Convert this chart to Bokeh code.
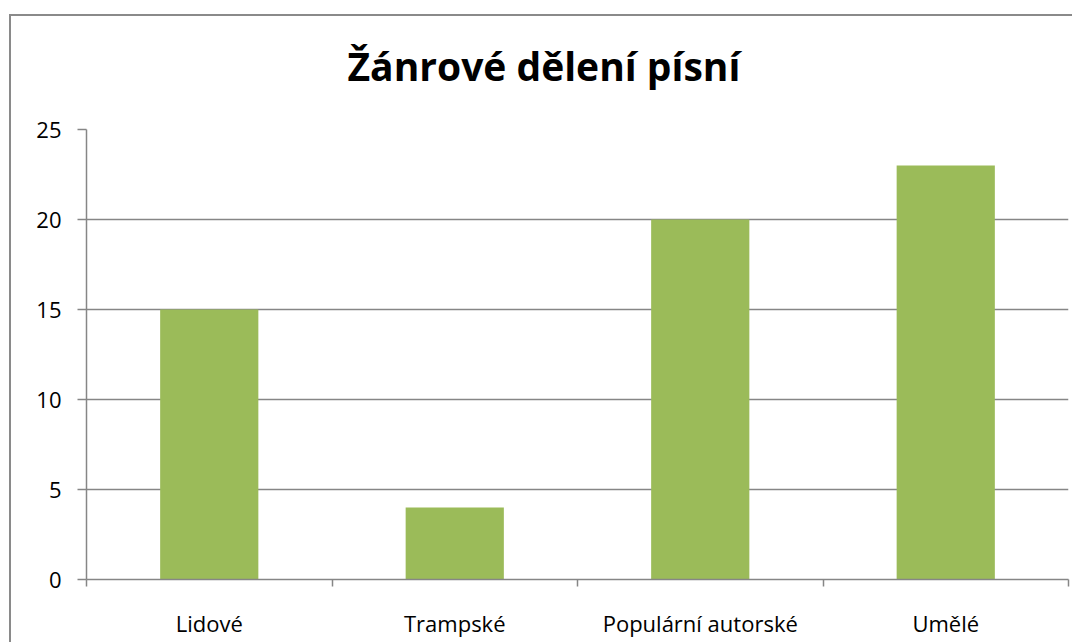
from bokeh.plotting import figure
from bokeh.models import FixedTicker, Range1d, Title
from bokeh.embed import file_html
from bokeh.resources import INLINE

categories = ["Lidové", "Trampské", "Populární autorské", "Umělé"]
values = [15, 4, 20, 23]
y_ticks = [0, 5, 10, 15, 20, 25]
title_text = "Žánrové dělení písní"

FONT = "Open Sans"
GRID = "#868686"

xs = [i + 0.5 for i in range(len(categories))]

p = figure(width=1063, height=628, output_backend="svg", toolbar_location=None,
           x_range=Range1d(0, len(categories)), y_range=Range1d(0, 25),
           min_border_left=75, min_border_right=6, min_border_top=113, min_border_bottom=65)
p.styles = {"border-left": "2px solid #8a8a8a", "border-top": "2px solid #8a8a8a",
            "margin-top": "14px", "margin-left": "9px"}

p.vbar(x=xs, top=values, width=0.4, color="#9BBB59", line_color=None)

# small spacer between the frame and the title
p.add_layout(Title(text=" ", text_font_size="8px", standoff=9), "above")

p.title.text = title_text
p.title.text_font = FONT
p.title.text_font_size = "39px"
p.title.text_font_style = "bold"
p.title.align = "left"
p.title.text_color = "#000000"
p.title.standoff = 36
p.title.offset = 261

p.outline_line_color = None
p.background_fill_color = "white"
p.border_fill_color = "white"

p.xgrid.grid_line_color = None
p.ygrid.ticker = FixedTicker(ticks=y_ticks)
p.ygrid.grid_line_color = GRID
p.ygrid.grid_line_width = 1.5

p.yaxis.ticker = FixedTicker(ticks=y_ticks)
p.yaxis.axis_line_color = GRID
p.yaxis.axis_line_width = 1.5
p.yaxis.major_tick_line_color = GRID
p.yaxis.major_tick_line_width = 1.5
p.yaxis.major_tick_out = 9
p.yaxis.major_tick_in = 0
p.yaxis.minor_tick_line_color = None
p.yaxis.major_label_text_font = FONT
p.yaxis.major_label_text_font_size = "22px"
p.yaxis.major_label_text_color = "#000000"
p.yaxis.major_label_standoff = 16

p.xaxis.ticker = FixedTicker(ticks=xs, minor_ticks=list(range(len(categories) + 1)))
p.xaxis.major_label_overrides = {x: c for x, c in zip(xs, categories)}
p.xaxis.axis_line_color = GRID
p.xaxis.axis_line_width = 1.5
p.xaxis.major_tick_line_color = None
p.xaxis.minor_tick_line_color = GRID
p.xaxis.minor_tick_line_width = 1.5
p.xaxis.minor_tick_out = 7
p.xaxis.minor_tick_in = 0
p.xaxis.major_label_text_font = FONT
p.xaxis.major_label_text_font_size = "22px"
p.xaxis.major_label_text_color = "#000000"
p.xaxis.major_label_standoff = 21

open("out.html", "w").write(file_html(p, INLINE))
